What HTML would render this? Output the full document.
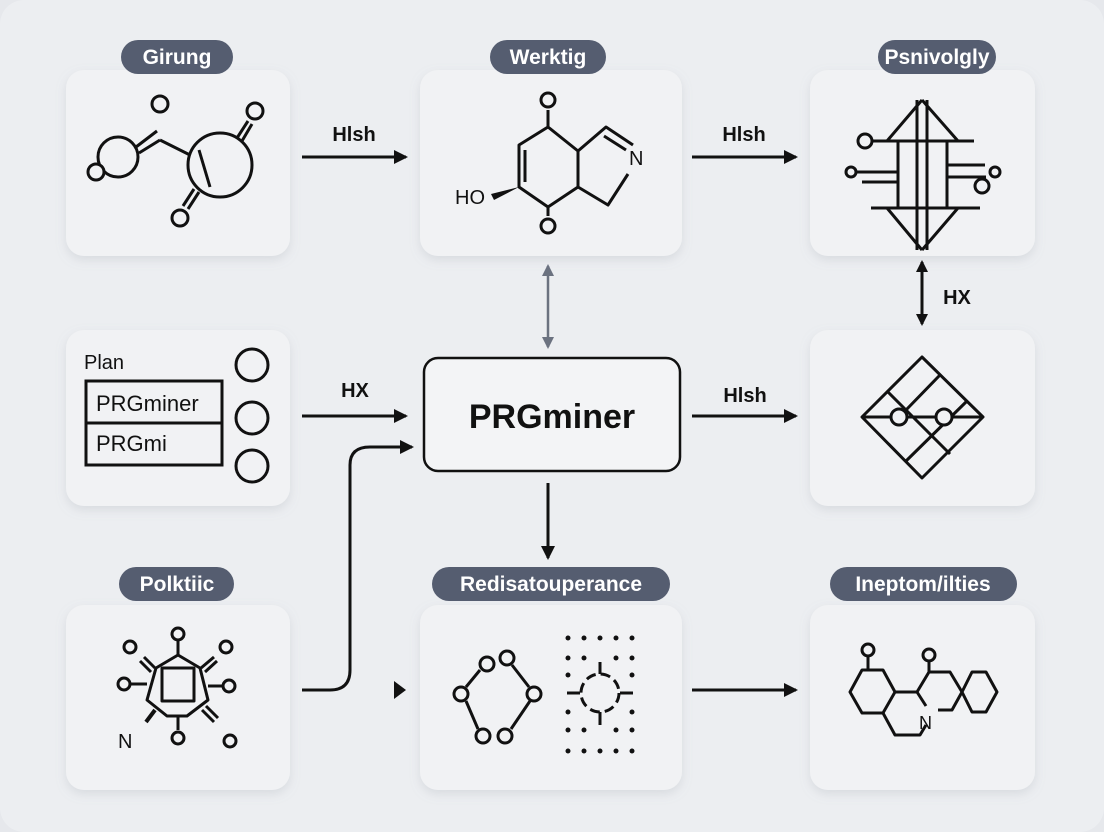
<!DOCTYPE html>
<html><head><meta charset="utf-8"><style>
html,body{margin:0;padding:0;background:#e6e8ec;}
svg{display:block;font-family:"Liberation Sans",sans-serif;}
</style></head><body>
<svg width="1104" height="832" viewBox="0 0 1104 832" xmlns="http://www.w3.org/2000/svg">
<defs>
<filter id="sh" x="-10%" y="-10%" width="120%" height="130%"><feDropShadow dx="0" dy="4" stdDeviation="5" flood-color="#9aa0aa" flood-opacity="0.25"/></filter>
<marker id="ah" markerWidth="14" markerHeight="14" refX="12" refY="7" orient="auto" markerUnits="userSpaceOnUse"><path d="M0,0 L14,7 L0,14z" fill="#111"/></marker>
<marker id="ag" markerWidth="12" markerHeight="12" refX="10" refY="6" orient="auto-start-reverse" markerUnits="userSpaceOnUse"><path d="M0,0 L12,6 L0,12z" fill="#6b7280"/></marker>
<marker id="ak" markerWidth="12" markerHeight="12" refX="10" refY="6" orient="auto-start-reverse" markerUnits="userSpaceOnUse"><path d="M0,0 L12,6 L0,12z" fill="#111"/></marker>
</defs>
<rect x="0" y="0" width="1104" height="832" rx="24" fill="#eceef1"/>
<g fill="#f1f2f4" filter="url(#sh)">
<rect x="66" y="70" width="224" height="186" rx="18"/>
<rect x="420" y="70" width="262" height="186" rx="18"/>
<rect x="810" y="70" width="225" height="186" rx="18"/>
<rect x="66" y="330" width="224" height="176" rx="18"/>
<rect x="810" y="330" width="225" height="176" rx="18"/>
<rect x="66" y="605" width="224" height="185" rx="18"/>
<rect x="420" y="605" width="262" height="185" rx="18"/>
<rect x="810" y="605" width="225" height="185" rx="18"/>
</g>
<g fill="#555d70">
<rect x="121" y="40" width="112" height="34" rx="17"/>
<rect x="490" y="40" width="116" height="34" rx="17"/>
<rect x="878" y="40" width="118" height="34" rx="17"/>
<rect x="119" y="567" width="115" height="34" rx="17"/>
<rect x="432" y="567" width="238" height="34" rx="17"/>
<rect x="830" y="567" width="187" height="34" rx="17"/>
</g>
<g fill="#fff" font-size="21" text-anchor="middle" font-weight="bold">
<text x="177" y="64">Girung</text>
<text x="548" y="64">Werktig</text>
<text x="937" y="64">Psnivolgly</text>
<text x="177" y="591">Polktiic</text>
<text x="551" y="591">Redisatouperance</text>
<text x="923" y="591">Ineptom/ilties</text>
</g>
<rect x="424" y="358" width="256" height="113" rx="14" fill="#f3f4f6" stroke="#111" stroke-width="2.5"/>
<text x="552" y="428" font-size="34" text-anchor="middle" fill="#111" font-weight="bold">PRGminer</text>
<g stroke="#111" stroke-width="3" fill="none">
<line x1="302" y1="157" x2="406" y2="157" marker-end="url(#ah)"/>
<line x1="692" y1="157" x2="796" y2="157" marker-end="url(#ah)"/>
<line x1="302" y1="416" x2="406" y2="416" marker-end="url(#ah)"/>
<line x1="692" y1="416" x2="796" y2="416" marker-end="url(#ah)"/>
<line x1="692" y1="690" x2="796" y2="690" marker-end="url(#ah)"/>
<line x1="548" y1="483" x2="548" y2="558" marker-end="url(#ah)"/>
<line x1="922" y1="262" x2="922" y2="324" marker-start="url(#ak)" marker-end="url(#ak)"/>
<path d="M302,690 H330 Q350,690 350,670 V465 Q350,447 370,447 H412" marker-end="url(#ah)"/>
</g>
<line x1="548" y1="266" x2="548" y2="347" stroke="#6b7280" stroke-width="2.5" marker-start="url(#ag)" marker-end="url(#ag)"/>
<path d="M394,681 L406,690 L394,699z" fill="#111"/>
<g font-size="20" fill="#111" text-anchor="middle" font-weight="bold">
<text x="354" y="141">Hlsh</text>
<text x="744" y="141">Hlsh</text>
<text x="355" y="397">HX</text>
<text x="745" y="402">Hlsh</text>
<text x="957" y="304">HX</text>
</g>
<g stroke="#111" stroke-width="3" fill="none">
<circle cx="160" cy="104" r="8"/>
<circle cx="118" cy="157" r="20"/>
<circle cx="96" cy="172" r="8" fill="#f1f2f4"/>
<line x1="136" y1="147" x2="157" y2="131"/><line x1="139" y1="153" x2="160" y2="140"/>
<line x1="160" y1="140" x2="190" y2="155"/>
<circle cx="220" cy="165" r="32"/>
<line x1="199" y1="150" x2="210" y2="187"/>
<line x1="237" y1="138" x2="248" y2="121"/><line x1="242" y1="141" x2="252" y2="124"/>
<circle cx="255" cy="111" r="8"/>
<line x1="199" y1="192" x2="188" y2="209"/><line x1="194" y1="189" x2="183" y2="206"/>
<circle cx="180" cy="218" r="8"/>
</g>
<g stroke="#111" stroke-width="3" fill="none" stroke-linejoin="round">
<path d="M548,127 L578,151 L578,187 L548,207 L519,187 L519,145 Z"/>
<line x1="525" y1="150" x2="525" y2="182"/>
<path d="M578,151 L606,127 L633,145 M628,174 L608,205 L578,187"/>
<line x1="604" y1="136" x2="626" y2="150"/>
<line x1="548" y1="127" x2="548" y2="110"/>
<line x1="548" y1="207" x2="548" y2="216"/>
<circle cx="548" cy="100" r="7"/>
<circle cx="548" cy="226" r="7"/>
</g>
<path d="M519,187 L494,200 L491,194z" fill="#111"/>
<text x="629" y="165" font-size="20" fill="#111">N</text>
<text x="455" y="204" font-size="20" fill="#111">HO</text>
<g stroke="#111" stroke-width="3" fill="none" stroke-linejoin="round">
<path d="M922,100 L887,141 M922,100 L958,141 M922,250 L887,208 M922,250 L958,208"/>
<line x1="917" y1="100" x2="917" y2="250"/><line x1="927" y1="100" x2="927" y2="250"/>
<line x1="898" y1="141" x2="898" y2="208"/><line x1="947" y1="141" x2="947" y2="208"/>
<line x1="865" y1="141" x2="974" y2="141"/>
<line x1="857" y1="172" x2="898" y2="172"/><line x1="862" y1="182" x2="898" y2="182"/>
<line x1="947" y1="165" x2="985" y2="165"/><line x1="947" y1="177" x2="986" y2="177"/>
<line x1="871" y1="208" x2="980" y2="208"/>
<circle cx="865" cy="141" r="7" fill="#f1f2f4"/>
<circle cx="851" cy="172" r="5"/>
<circle cx="995" cy="172" r="5"/>
<circle cx="982" cy="186" r="7"/>
</g>
<text x="84" y="369" font-size="20" fill="#111">Plan</text>
<g stroke="#111" stroke-width="3" fill="none">
<rect x="86" y="381" width="136" height="84"/>
<line x1="86" y1="423" x2="222" y2="423"/>
<circle cx="252" cy="365" r="16"/>
<circle cx="252" cy="418" r="16"/>
<circle cx="252" cy="466" r="16"/>
</g>
<text x="96" y="411" font-size="22" fill="#111">PRGminer</text>
<text x="96" y="451" font-size="22" fill="#111">PRGmi</text>
<g stroke="#111" stroke-width="3" fill="none" stroke-linejoin="round">
<path d="M922,357 L983,417 L922,478 L862,417 Z"/>
<line x1="862" y1="417" x2="983" y2="417"/>
<line x1="888" y1="392" x2="950" y2="454"/>
<line x1="940" y1="375" x2="906" y2="410"/>
<line x1="967" y1="401" x2="905" y2="462"/>
<circle cx="899" cy="417" r="8" fill="#f1f2f4"/>
<circle cx="944" cy="417" r="8" fill="#f1f2f4"/>
</g>
<g stroke="#111" stroke-width="3" fill="none" stroke-linejoin="round">
<path d="M156,668 L178,655 L200,668 L208,700 L187,716 L167,716 L147,700 Z"/>
<rect x="162" y="668" width="32" height="33"/>
<line x1="178" y1="655" x2="178" y2="641"/><circle cx="178" cy="634" r="6"/>
<line x1="155" y1="668" x2="144" y2="657"/><line x1="151" y1="672" x2="140" y2="661"/>
<circle cx="130" cy="647" r="6"/>
<line x1="201" y1="668" x2="214" y2="657"/><line x1="205" y1="672" x2="217" y2="661"/>
<circle cx="226" cy="647" r="6"/>
<line x1="147" y1="684" x2="131" y2="684"/><circle cx="124" cy="684" r="6"/>
<line x1="208" y1="686" x2="222" y2="686"/><circle cx="229" cy="686" r="6"/>
<line x1="202" y1="710" x2="214" y2="722"/><line x1="206" y1="706" x2="218" y2="718"/>
<circle cx="230" cy="741" r="6"/>
<line x1="178" y1="716" x2="178" y2="730"/><circle cx="178" cy="738" r="6"/>
</g>
<line x1="155" y1="710" x2="146" y2="722" stroke="#111" stroke-width="4"/>
<text x="118" y="748" font-size="20" fill="#111">N</text>
<g stroke="#111" stroke-width="3" fill="none">
<circle cx="487" cy="664" r="7"/><circle cx="507" cy="658" r="7"/>
<circle cx="461" cy="694" r="7"/><circle cx="534" cy="694" r="7"/>
<circle cx="483" cy="736" r="7"/><circle cx="505" cy="736" r="7"/>
<line x1="480" y1="670" x2="466" y2="687"/><line x1="512" y1="665" x2="529" y2="687"/>
<line x1="466" y1="701" x2="478" y2="729"/><line x1="530" y1="701" x2="511" y2="729"/>
<circle cx="600" cy="693" r="19" stroke-dasharray="10 5"/>
<line x1="567" y1="693" x2="580" y2="693"/><line x1="620" y1="693" x2="633" y2="693"/>
<line x1="600" y1="662" x2="600" y2="674"/><line x1="600" y1="712" x2="600" y2="725"/>
</g>
<g fill="#111">
<circle cx="568" cy="638" r="2.5"/><circle cx="584" cy="638" r="2.5"/><circle cx="600" cy="638" r="2.5"/><circle cx="616" cy="638" r="2.5"/><circle cx="632" cy="638" r="2.5"/>
<circle cx="568" cy="658" r="2.5"/><circle cx="584" cy="658" r="2.5"/><circle cx="616" cy="658" r="2.5"/><circle cx="632" cy="658" r="2.5"/>
<circle cx="568" cy="675" r="2.5"/><circle cx="632" cy="675" r="2.5"/>
<circle cx="568" cy="712" r="2.5"/><circle cx="632" cy="712" r="2.5"/>
<circle cx="568" cy="730" r="2.5"/><circle cx="584" cy="730" r="2.5"/><circle cx="616" cy="730" r="2.5"/><circle cx="632" cy="730" r="2.5"/>
<circle cx="568" cy="751" r="2.5"/><circle cx="584" cy="751" r="2.5"/><circle cx="600" cy="751" r="2.5"/><circle cx="616" cy="751" r="2.5"/><circle cx="632" cy="751" r="2.5"/>
</g>
<g stroke="#111" stroke-width="3" fill="none" stroke-linejoin="round">
<path d="M862,670 L883,670 L895,692 L883,713 L862,713 L850,692 Z"/>
<path d="M883,713 L895,735 L920,735 L926,725"/>
<path d="M895,692 L917,692 L929,672 L950,672 L962,692 L952,710 L938,710"/>
<path d="M917,692 L926,706"/>
<path d="M962,692 L972,672 L986,672 L997,692 L986,712 L972,712 Z"/>
<line x1="868" y1="670" x2="868" y2="656"/><circle cx="868" cy="650" r="6"/>
<line x1="929" y1="672" x2="929" y2="662"/><circle cx="929" cy="655" r="6"/>
</g>
<text x="919" y="729" font-size="18" fill="#111">N</text>
</svg>
</body></html>
